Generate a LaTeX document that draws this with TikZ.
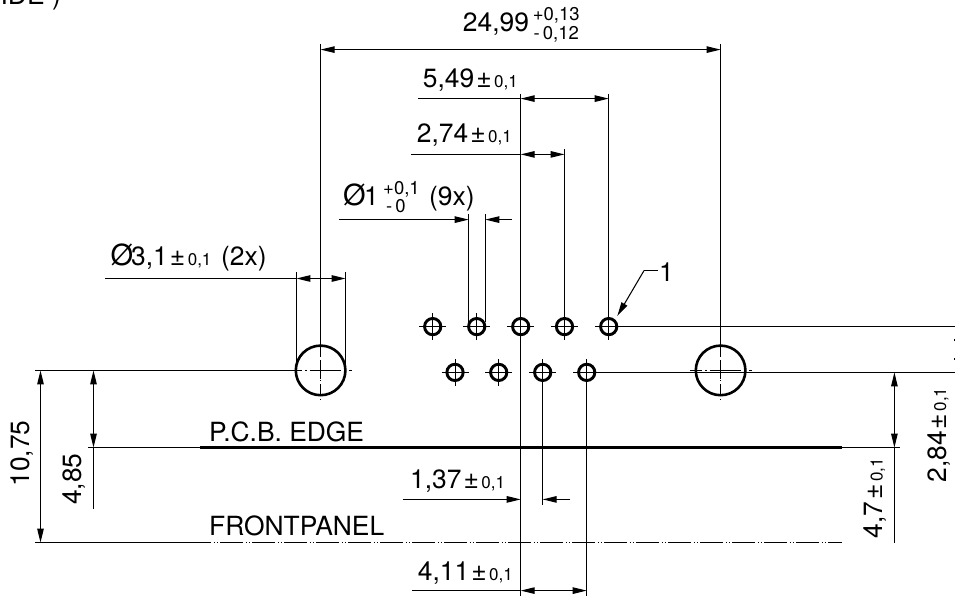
\documentclass[tikz,border=0pt]{standalone}
\usepackage{fontspec}
\setmainfont{TeX Gyre Heros}
\usetikzlibrary{arrows.meta}
\tikzset{
  x=1pt,y=-1pt,
  thin line/.style={line width=1.05pt,black},
  thick line/.style={line width=2.4pt,black},
  dim/.style={thin line,{Triangle[length=14pt,width=6.5pt]}-{Triangle[length=14pt,width=6.5pt]}},
  tipend/.style={thin line,-{Triangle[length=14pt,width=6.5pt]}},
  center line/.style={line width=0.8pt,black,dash pattern=on 12pt off 3pt on 1.5pt off 3pt},
  panel line/.style={line width=0.8pt,black,dash pattern=on 22.5pt off 3pt on 1.2pt off 2.1pt on 1.2pt off 2pt,dash phase=12pt},
  hole/.style={circle,draw=black,line width=2.9pt,inner sep=0pt,minimum size=16.3pt},
  bighole/.style={circle,draw=black,line width=2.6pt,inner sep=0pt,minimum size=49.6pt},
  lbl/.style={inner sep=0pt,font=\fontsize{26.4}{26.4}\selectfont,anchor=base west},
  small/.style={inner sep=0pt,font=\fontsize{18.5}{18.5}\selectfont,anchor=base west},
}
\newcommand{\tolr}{\hspace{2pt}±\hspace{2.5pt}{\fontsize{17}{17}\selectfont 0,1}}
\newcommand{\dia}{{\fontsize{29}{29}\selectfont Ø}}
\begin{document}
\begin{tikzpicture}
\useasboundingbox (0,0) rectangle (955,599);
% holes
\foreach \n/\hx in {a/432.7,b/476.7,c/520.7,d/564.5,e/608.7}{
  \node[hole] (\n) at (\hx,326.6) {};
  \draw[thin line,line width=0.8pt] (\hx-13.5,326.6) -- (\hx+13.5,326.6) (\hx,313.1) -- (\hx,340.1);
}
\foreach \n/\hx in {f/455,g/498.7,h/542.7,i/586.7}{
  \node[hole] (\n) at (\hx,372.4) {};
  \draw[thin line,line width=0.8pt] (\hx-13.5,372.4) -- (\hx+13.5,372.4) (\hx,358.9) -- (\hx,385.9);
}
\node[bighole] (L) at (320.6,370.4) {};
\node[bighole] (R) at (720.6,370.4) {};
\draw[center line] (290,370.4) -- (352,370.4);
\draw[center line] (690,370.4) -- (752,370.4);
\draw[center line] (320.6,345) -- (320.6,400);
\draw[center line] (720.6,345) -- (720.6,400);
\draw[thin line] (320.6,362) -- (320.6,379) (312,370.4) -- (330,370.4);
\draw[thin line] (720.6,362) -- (720.6,379) (712,370.4) -- (730,370.4);
% extension lines
\coordinate (top1) at (320.6,44);
\coordinate (top2) at (720.6,44);
\draw[thin line] (top1) -- (320.6,345);
\draw[thin line] (top2) -- (720.6,345);
\draw[thin line] (520.7,94) -- (c.north);
\draw[thin line] (c.south) -- (520.7,596);
\draw[thin line] (608.7,94) -- (e.north);
\draw[thin line] (564.5,149) -- (d.north);
\draw[thin line] (468.7,214) -- (468.7,322);
\draw[thin line] (485.3,214) -- (485.3,322);
\draw[thin line] (296.4,272) -- (296.4,370.4);
\draw[thin line] (345.6,272) -- (345.6,370.4);
\draw[thin line] (h.south) -- (542.7,505);
\draw[thin line] (i.south) -- (586.7,596);
\draw[thin line] (e.east) -- (955,326.6);
\draw[thin line] (i.east) -- (955,372.4);
\draw[thin line,line width=0.7pt] (954.5,338.8) -- (954.5,341) (954.5,358) -- (954.5,360.2);
% dimension lines
\draw[dim] (320.6,49.6) -- (720.6,49.6);
\draw[thin line] (418,98.6) -- (520.7,98.6);
\draw[dim] (520.7,98.6) -- (608.7,98.6);
\draw[thin line] (411,154.4) -- (520.7,154.4);
\draw[dim] (520.7,154.4) -- (564.5,154.4);
\coordinate (p1) at (339,219.6);
\draw[tipend] (p1) -- (468.7,219.6);
\coordinate (p2) at (512,219.6);
\draw[tipend] (p2) -- (485.3,219.6);
\coordinate (p3) at (105,278.5);
\draw[thin line] (p3) -- (296.4,278.5);
\draw[dim] (296.4,278.5) -- (345.6,278.5);
% left
\draw[thin line] (35,370.4) -- (L.west);
\draw[dim] (40.5,370.4) -- (40.5,542.6);
\draw[dim] (93.5,370.4) -- (93.5,447.6);
\draw[thin line] (93.5,447.6) -- (93.5,508.7);
\draw[thin line] (88,447.6) -- (200,447.6);
\draw[thick line] (200,447.6) -- (842,447.6);
\draw[thin line] (842,447.6) -- (900,447.6);
\draw[thin line] (35,542.6) -- (200,542.6);
\draw[panel line] (200,542.6) -- (842,542.6);
% right
\draw[dim] (894.4,372.4) -- (894.4,447.6);
\draw[thin line] (894.4,447.6) -- (894.4,542.6);
% bottom
\coordinate (q1) at (402.7,499.4);
\coordinate (q2) at (570,499.4);
\draw[tipend] (q1) -- (520.7,499.4);
\draw[tipend] (q2) -- (542.7,499.4);
\coordinate (q3) at (412,590.6);
\draw[thin line] (q3) -- (520.7,590.6);
\draw[dim] (520.7,590.6) -- (586.7,590.6);
% leader 1
\node[lbl] (n1) at (659,281) {1};
\coordinate (k) at (644,270.6);
\draw[thin line] (658,270.6) -- (k);
\draw[tipend] (k) -- (617.3,316);
% labels
\node[anchor=base east,inner sep=0pt,font=\fontsize{26.4}{26.4}\selectfont] (side) at (61,5) {IDE )};
\node[lbl] (t1) at (462.7,32) {24,99};
\node[small] (t1a) at (532.7,20.7) {+0,13};
\node[small] (t1b) at (533.5,39.5) {-\,0,12};
\node[lbl] (t2) at (422.7,87.5) {5,49\tolr};
\node[lbl] (t3) at (416.7,142.7) {2,74\tolr};
\node[lbl] (t4) at (343,205.5) {\dia};
\node[lbl] (t4n) at (364,205) {1};
\node[small] (t4a) at (383,194) {+0,1};
\node[small] (t4b) at (386,212) {-\,0};
\node[lbl] (t4c) at (429,205) {(9x)};
\node[lbl] (t5) at (110.5,265.5) {\dia};
\node[lbl] (t5n) at (131,265) {3,1\tolr};
\node[lbl] (t5c) at (221,265) {(2x)};
\node[lbl] (t6) at (410,488.3) {1,37\tolr};
\node[lbl] (t7) at (417.7,580) {4,11\tolr};
\node[lbl,rotate=90] (t8) at (29.3,486.7) {10,75};
\node[lbl,rotate=90] (t9) at (81.7,505) {4,85};
\node[lbl,rotate=90] (t10) at (946,482.7) {2,84\tolr};
\node[lbl,rotate=90] (t11) at (882.7,538.3) {4,7\tolr};
\node[lbl] (t12) at (209,441.7) {P.C.B. EDGE};
\node[lbl] (t13) at (209,535.7) {FRONTPANEL};
\end{tikzpicture}
\end{document}
